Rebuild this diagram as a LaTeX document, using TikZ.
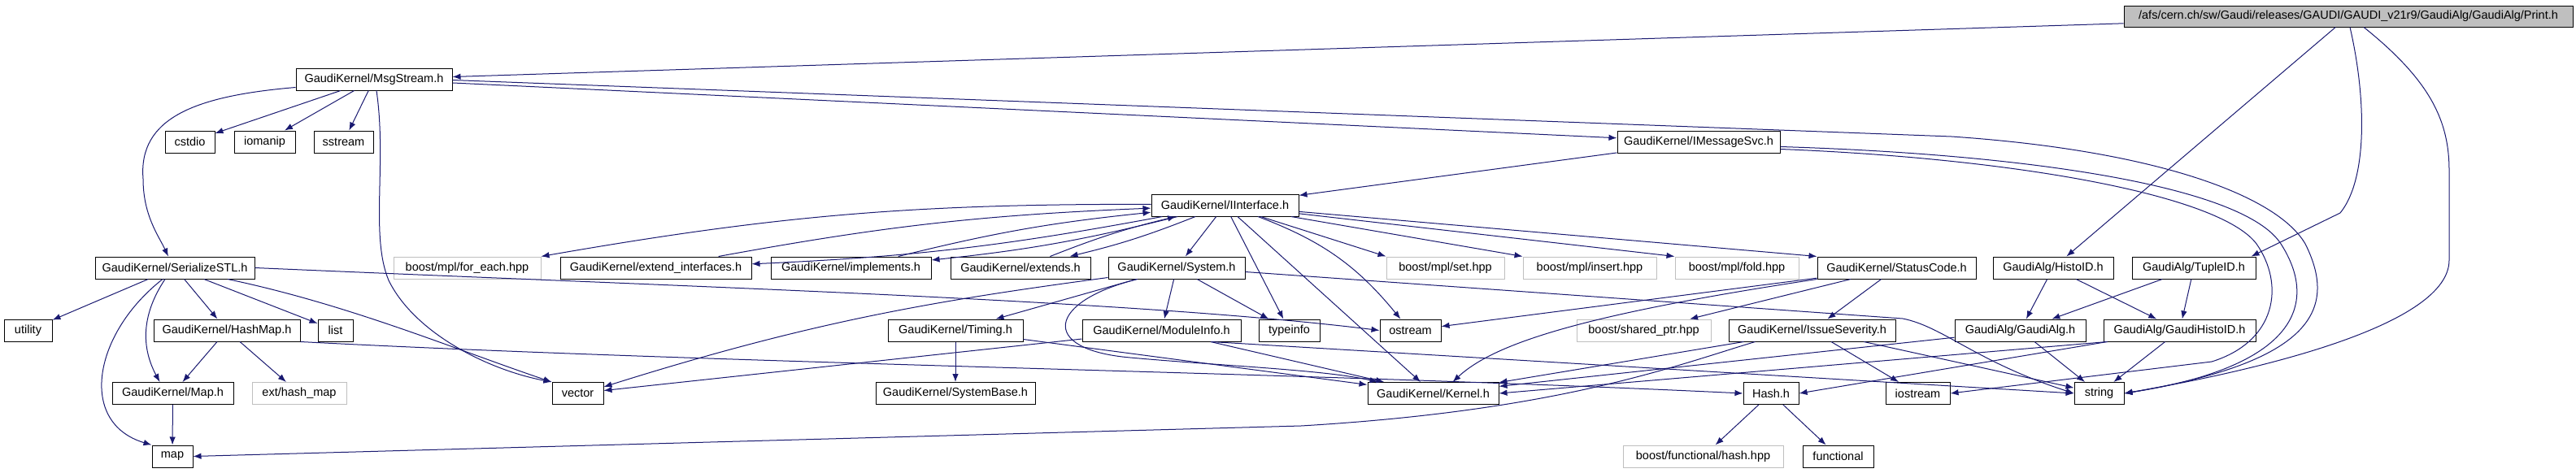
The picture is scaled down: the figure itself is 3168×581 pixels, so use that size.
\documentclass[tikz,border=0pt]{standalone}
\usepackage{fontspec}
\setmainfont{Liberation Sans}
\usepackage{tikz}
\usetikzlibrary{arrows.meta}
\definecolor{midblue}{HTML}{191970}
\definecolor{extgray}{HTML}{BFBFBF}
\tikzstyle{header}=[rectangle,draw=black,fill=white,line width=1pt,minimum height=27pt,inner sep=3pt,font=\fontsize{14.5}{17}\selectfont]
\tikzstyle{sysheader}=[header,draw=extgray]
\tikzstyle{mainheader}=[header,fill=extgray]
\tikzstyle{edge} = [draw,line width=1pt,midblue,-{Latex[length=10pt,width=7.5pt]}]

\begin{document}
\begin{tikzpicture}[x=1pt,y=-1pt]
    \useasboundingbox (0,0) rectangle (3168,581);
    % The file whose includes are drawn
    \node[mainheader,minimum width=552pt,minimum height=26pt] (print) at (2888,20)
        {/afs/cern.ch/sw/Gaudi/releases/GAUDI/GAUDI\_v21r9/GaudiAlg/GaudiAlg/Print.h};

    % Headers that were found
    \foreach \pos/\w/\name/\txt in {
        {(460,97.5)/192pt/msgstream/{GaudiKernel/MsgStream.h}},
        {(233.5,174.5)/61pt/cstdio/cstdio},
        {(325.5,174.5)/75pt/iomanip/iomanip},
        {(422.5,174.5)/73pt/sstream/sstream},
        {(2089,174.5)/200pt/imessagesvc/{GaudiKernel/IMessageSvc.h}},
        {(1506.5,252.5)/181pt/iinterface/{GaudiKernel/IInterface.h}},
        {(215,329.5)/196pt/serializestl/{GaudiKernel/SerializeSTL.h}},
        {(806.5,329.5)/235pt/extendinterfaces/{GaudiKernel/extend\_interfaces.h}},
        {(1046.5,329.5)/197pt/implements/{GaudiKernel/implements.h}},
        {(1255,329.5)/172pt/extends/{GaudiKernel/extends.h}},
        {(1447,329.5)/168pt/system/{GaudiKernel/System.h}},
        {(2332.5,329.5)/195pt/statuscode/{GaudiKernel/StatusCode.h}},
        {(2525,329.5)/148pt/histoid/{GaudiAlg/HistoID.h}},
        {(2698,329.5)/152pt/tupleid/{GaudiAlg/TupleID.h}},
        {(34.5,406.5)/59pt/utility/utility},
        {(279,406.5)/180pt/hashmap/{GaudiKernel/HashMap.h}},
        {(412.5,406.5)/43pt/list/list},
        {(1175,406.5)/166pt/timing/{GaudiKernel/Timing.h}},
        {(1428.5,406.5)/195pt/moduleinfo/{GaudiKernel/ModuleInfo.h}},
        {(1585.5,406.5)/75pt/typeinfo/typeinfo},
        {(1734.5,406.5)/75pt/ostream/ostream},
        {(2228.5,406.5)/205pt/issueseverity/{GaudiKernel/IssueSeverity.h}},
        {(2484.5,406.5)/161pt/gaudialg/{GaudiAlg/GaudiAlg.h}},
        {(2680.5,406.5)/187pt/gaudihistoid/{GaudiAlg/GaudiHistoID.h}},
        {(212.5,484)/149pt/gkmap/{GaudiKernel/Map.h}},
        {(710.5,484)/63pt/vector/vector},
        {(1175,484)/196pt/systembase/{GaudiKernel/SystemBase.h}},
        {(1762.5,484)/161pt/kernel/{GaudiKernel/Kernel.h}},
        {(2178,484)/68pt/hash/Hash.h},
        {(2358.5,484)/79pt/iostream/iostream},
        {(2581.5,484)/61pt/string/string},
        {(212,561.5)/50pt/stdmap/map},
        {(2260.5,561.5)/87pt/functional/functional}}
        \node[header,minimum width=\w] (\name) at \pos {\txt};

    % Headers that were not found
    \foreach \pos/\w/\name/\txt in {
        {(574.5,329.5)/181pt/mplforeach/{boost/mpl/for\_each.hpp}},
        {(1777.5,329.5)/145pt/mplset/{boost/mpl/set.hpp}},
        {(1955,329.5)/164pt/mplinsert/{boost/mpl/insert.hpp}},
        {(2136,329.5)/152pt/mplfold/{boost/mpl/fold.hpp}},
        {(2021.5,406.5)/165pt/sharedptr/{boost/shared\_ptr.hpp}},
        {(368,484)/116pt/hashmapext/{ext/hash\_map}},
        {(2094.5,561.5)/197pt/boosthash/{boost/functional/hash.hpp}}}
        \node[sysheader,minimum width=\w] (\name) at \pos {\txt};

    % Straight include edges
    \foreach \source/\dest in {print/msgstream, print/histoid,
        msgstream/cstdio, msgstream/iomanip, msgstream/sstream, msgstream/imessagesvc,
        imessagesvc/iinterface, iinterface/system, iinterface/typeinfo, iinterface/kernel,
        serializestl/utility, serializestl/hashmap, serializestl/list,
        hashmap/gkmap, hashmap/hashmapext, gkmap/stdmap,
        system/timing, system/moduleinfo, system/typeinfo,
        timing/systembase, timing/kernel, moduleinfo/kernel, moduleinfo/vector,
        statuscode/ostream, statuscode/sharedptr, statuscode/issueseverity,
        issueseverity/kernel, issueseverity/iostream, issueseverity/string,
        hash/boosthash, hash/functional,
        histoid/gaudialg, histoid/gaudihistoid, tupleid/gaudialg, tupleid/gaudihistoid,
        gaudialg/kernel, gaudialg/string, gaudihistoid/string}
        \path[edge] (\source) -- (\dest);

    \foreach \dest in {mplset, mplinsert, mplfold, statuscode}
        \path[edge] (iinterface) -- (\dest.north west);

    % IInterface and the headers that include it back
    \foreach \other in {extendinterfaces, implements, extends} {
        \path[edge] (iinterface) to[bend left=4] (\other);
        \path[edge] (\other) to[bend left=4] (iinterface);
    }
    \path[edge] (iinterface) to[bend right=5] (mplforeach.north east);
    \path[edge] (iinterface) to[bend left=15] (ostream);

    % Curved edges
    \path[edge] ([xshift=2pt]print.south) .. controls (2910,120) and (2912,220) .. (2878,262)
        -- ([xshift=-6pt]tupleid.north east);
    \path[edge] ([xshift=19pt]print.south) .. controls (2990,100) and (3012,150) .. (3012,210)
        -- (3012,320) .. controls (3012,400) and (2780,455) .. (string.east);
    \path[edge] ([yshift=-1pt]msgstream.east) -- (2400,168) .. controls (2650,185) and (2800,240) .. (2835,300)
        .. controls (2875,380) and (2845,445) .. (string.east);
    \path[edge] ([yshift=-6pt]imessagesvc.east) .. controls (2500,190) and (2760,230) .. (2805,300)
        .. controls (2850,370) and (2830,450) .. (string.east);
    \path[edge] ([yshift=-9pt]imessagesvc.east) .. controls (2480,195) and (2730,240) .. (2775,300)
        .. controls (2810,350) and (2800,420) .. (2720,445) -- (iostream.east);
    \path[edge] ([yshift=4pt]msgstream.south west) .. controls (240,118) and (170,145) .. (176,220)
        .. controls (176,265) and (195,290) .. ([xshift=-8pt]serializestl.north);
    \path[edge] ([xshift=3pt]msgstream.south) .. controls (476,200) and (455,290) .. (478,345)
        .. controls (510,410) and (600,455) .. (vector.north west);
    \path[edge] ([xshift=-12pt]serializestl.south) .. controls (172,390) and (175,430) .. ([xshift=-16pt]gkmap.north);
    \path[edge] ([xshift=-15pt]serializestl.south) .. controls (115,410) and (95,520) .. (stdmap.north west);
    \path[edge] ([xshift=65pt]serializestl.south) .. controls (430,375) and (560,430) .. (vector.north west);
    \path[edge] (serializestl.east) .. controls (900,355) and (1400,370) .. (ostream.west);
    \path[edge] (hashmap.south east) .. controls (900,448) and (1600,458) .. (hash.west);
    \path[edge] ([yshift=2pt]system.south west) .. controls (1150,370) and (1000,395) .. ([yshift=8pt]vector.east);
    \path[edge] ([xshift=-48pt]system.south) .. controls (1290,370) and (1275,430) .. (1390,440)
        .. controls (1500,450) and (1630,455) .. ([xshift=-68pt]kernel.north);
    \path[edge] ([yshift=-5pt]system.east) -- (2340,392) .. controls (2390,402) and (2430,445) .. (string.west);
    \path[edge] ([xshift=-37pt]moduleinfo.south east) -- (string.west);
    \path[edge] (statuscode.south west) .. controls (1960,385) and (1840,420) .. ([xshift=-57pt]kernel.north east);
    \path[edge] ([xshift=-70pt]issueseverity.south) .. controls (2060,450) and (1920,505) .. (1600,524)
        -- (stdmap.east);
    \path[edge] ([xshift=5pt]gaudihistoid.south west) -- (kernel.east);
    \path[edge] ([xshift=5pt]gaudihistoid.south west) -- (hash.east);
\end{tikzpicture}
\end{document}
